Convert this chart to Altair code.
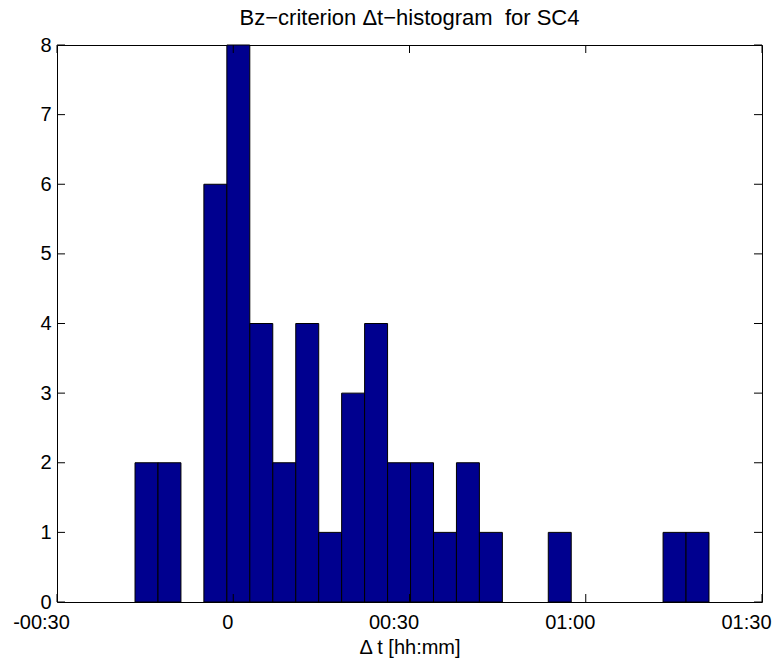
import altair as alt
import pandas as pd

# Histogram bins (minutes): left edge of each non-empty bin and its count
bin_left = [-16.72, -12.81, -5.00, -1.09, 2.82, 6.73, 10.64, 14.54, 18.45, 22.36,
            26.27, 30.18, 34.08, 37.99, 41.90, 53.62, 73.16, 77.07]
counts = [2, 2, 6, 8, 4, 2, 4, 1, 3, 4, 2, 2, 1, 2, 1, 1, 1, 1]
bin_width = 3.908

x_ticks = [-30, 0, 30, 60, 90]
x_tick_labels = ["-00:30", "0", "00:30", "01:00", "01:30"]
y_ticks = [0, 1, 2, 3, 4, 5, 6, 7, 8]

W, H = 705, 557
FONT = "Liberation Sans"
FS = 20
TICK = 8

bars = pd.DataFrame({"left": bin_left, "count": counts})
bars["right"] = bars["left"] + bin_width

label_expr = " : ".join(
    f"datum.value == {v} ? '{l}'" for v, l in zip(x_ticks, x_tick_labels)
) + " : ''"

xscale = alt.Scale(domain=[-30, 90], nice=False, zero=False)
yscale = alt.Scale(domain=[0, 8], nice=False)

xaxis = alt.Axis(values=x_ticks, labelExpr=label_expr, title="Δ t [hh:mm]",
                 ticks=False, domain=False, grid=False, labelPadding=10,
                 titlePadding=5, labelFlush=False,
                 labelOffset=alt.condition("datum.value == 0", alt.value(-6), alt.value(-16)),
                 labelFont=FONT, labelFontSize=FS, labelColor="black",
                 titleFont=FONT, titleFontSize=FS, titleColor="black",
                 titleFontWeight="normal")
yaxis = alt.Axis(values=y_ticks, title=None, ticks=False, domain=False, grid=False,
                 labelPadding=6, format="d",
                 labelFont=FONT, labelFontSize=FS, labelColor="black")

bar_layer = alt.Chart(bars).mark_bar(color="#00008F", stroke="black", strokeWidth=1).encode(
    x=alt.X("left:Q", scale=xscale, axis=xaxis),
    x2="right:Q",
    y=alt.Y("count:Q", scale=yscale, axis=yaxis),
    y2=alt.datum(0),
)

xt = pd.DataFrame({"left": x_ticks})
yt = pd.DataFrame({"count": y_ticks})

xt_bottom = alt.Chart(xt).mark_rule(color="black", strokeWidth=1).encode(
    x=alt.X("left:Q", scale=xscale, axis=xaxis), y=alt.value(H), y2=alt.value(H - TICK))
xt_top = alt.Chart(xt).mark_rule(color="black", strokeWidth=1).encode(
    x=alt.X("left:Q", scale=xscale, axis=xaxis), y=alt.value(0), y2=alt.value(TICK))
yt_left = alt.Chart(yt).mark_rule(color="black", strokeWidth=1).encode(
    y=alt.Y("count:Q", scale=yscale, axis=yaxis), x=alt.value(0), x2=alt.value(TICK))
yt_right = alt.Chart(yt).mark_rule(color="black", strokeWidth=1).encode(
    y=alt.Y("count:Q", scale=yscale, axis=yaxis), x=alt.value(W), x2=alt.value(W - TICK))

chart = alt.layer(bar_layer, xt_bottom, xt_top, yt_left, yt_right).properties(
    width=W, height=H,
    background="white",
    title=alt.TitleParams("Bz\u2212criterion \u0394t\u2212histogram \u00a0for SC4",
                          font=FONT, fontSize=22, fontWeight="normal", color="black",
                          offset=10, dy=5),
    autosize=alt.AutoSizeParams(type="none"),
    padding={"left": 57, "top": 45, "right": 16, "bottom": 62},
).configure_view(stroke="black", strokeWidth=1)

chart.save("out.html", embed_options={"renderer": "svg", "actions": False})
